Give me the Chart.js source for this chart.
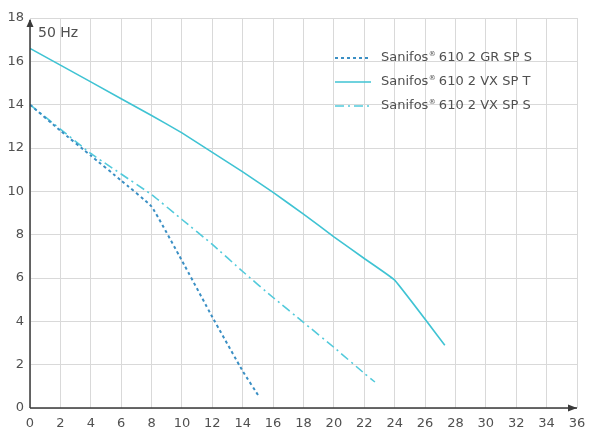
<!DOCTYPE html>
<html>
<head>
<meta charset="utf-8">
<script src="https://cdn.jsdelivr.net/npm/chart.js@4/dist/chart.umd.min.js"></script>
<style>
  html, body { margin: 0; padding: 0; background: #fff; }
  #wrap { width: 589px; height: 433px; position: relative; }
</style>
</head>
<body>
<div id="wrap"><canvas id="pump"></canvas></div>
<script>
// Flow (m3/h) and head (m)
const grFlow = [0, 2, 4, 6, 8, 10, 12, 14, 15.1];
const grHead = [14.0, 12.8, 11.65, 10.5, 9.3, 6.8, 4.2, 1.7, 0.5];

const vxtFlow = [0, 4, 8, 10, 12, 14, 16, 18, 20, 22, 24, 27.3];
const vxtHead = [16.6, 15.05, 13.5, 12.7, 11.8, 10.9, 9.95, 8.95, 7.9, 6.9, 5.9, 2.9];

const vxsFlow = [0, 4, 8, 10, 12, 14, 16, 18, 20, 22, 22.7];
const vxsHead = [14.0, 11.75, 9.85, 8.7, 7.55, 6.3, 5.1, 3.95, 2.8, 1.6, 1.2];

const seriesNames = ['610 2 GR SP S', '610 2 VX SP T', '610 2 VX SP S'];
const xTicks = { min: 0, max: 36, step: 2 };
const yTicks = { min: 0, max: 18, step: 2 };

const textColor = '#505050';
const fontFamily = '"DejaVu Sans", sans-serif';

function toPoints(xs, ys) {
    return xs.map((x, i) => ({ x: x, y: ys[i] }));
}

const lineStyles = [
    { color: '#3a8fc4', dash: [3, 3], width: 2 },
    { color: '#3fc3d3', dash: [], width: 1.6 },
    { color: '#52cadb', dash: [9, 4, 2, 4], width: 1.6 }
];

// axis arrows, legend and the "50 Hz" label
const decorations = {
    id: 'decorations',
    afterDraw(chart) {
        const ctx = chart.ctx;
        const a = chart.chartArea;
        ctx.save();
        ctx.strokeStyle = '#3a3a3a';
        ctx.fillStyle = '#3a3a3a';
        ctx.lineWidth = 1.5;
        ctx.beginPath();
        ctx.moveTo(a.left, a.bottom);
        ctx.lineTo(a.left, a.top + 2);
        ctx.moveTo(a.left, a.bottom);
        ctx.lineTo(a.right, a.bottom);
        ctx.stroke();
        // arrow heads
        ctx.beginPath();
        ctx.moveTo(a.left, a.top + 1);
        ctx.lineTo(a.left - 3.5, a.top + 9);
        ctx.lineTo(a.left + 3.5, a.top + 9);
        ctx.closePath();
        ctx.fill();
        ctx.beginPath();
        ctx.moveTo(a.right, a.bottom);
        ctx.lineTo(a.right - 9, a.bottom - 3.5);
        ctx.lineTo(a.right - 9, a.bottom + 3.5);
        ctx.closePath();
        ctx.fill();

        ctx.font = '14px ' + fontFamily;
        ctx.fillStyle = textColor;
        ctx.textBaseline = 'middle';
        ctx.fillText('50 Hz', a.left + 8, 33);

        // legend
        const rows = [58, 82, 106];
        seriesNames.forEach((name, i) => {
            const s = lineStyles[i];
            const y = rows[i];
            ctx.strokeStyle = s.color;
            ctx.lineWidth = s.width;
            ctx.setLineDash(s.dash);
            ctx.beginPath();
            ctx.moveTo(335, y);
            ctx.lineTo(371, y);
            ctx.stroke();
            ctx.setLineDash([]);

            let x = 381;
            ctx.font = '13px ' + fontFamily;
            ctx.fillStyle = textColor;
            ctx.fillText('Sanifos', x, y);
            x += ctx.measureText('Sanifos').width + 0.5;
            ctx.font = '7px ' + fontFamily;
            ctx.fillText('\u00AE', x, y - 4);
            x += ctx.measureText('\u00AE').width + 3;
            ctx.font = '13px ' + fontFamily;
            ctx.fillText(name, x, y);
        });
        ctx.restore();
    }
};

const datasets = [
    toPoints(grFlow, grHead),
    toPoints(vxtFlow, vxtHead),
    toPoints(vxsFlow, vxsHead)
].map((pts, i) => ({
    label: 'Sanifos\u00AE ' + seriesNames[i],
    data: pts,
    borderColor: lineStyles[i].color,
    borderWidth: lineStyles[i].width,
    borderDash: lineStyles[i].dash,
    pointRadius: 0,
    tension: 0.1,
    fill: false
}));

window.onload = function () {
    const ctx = document.getElementById('pump').getContext('2d');
    new Chart(ctx, {
        type: 'line',
        data: { datasets: datasets },
        options: {
            responsive: true,
            maintainAspectRatio: false,
            animation: false,
            layout: { padding: { top: 18, right: 12, left: 0, bottom: 0 } },
            plugins: {
                legend: { display: false },
                tooltip: { enabled: false }
            },
            scales: {
                x: {
                    type: 'linear',
                    min: xTicks.min,
                    max: xTicks.max,
                    afterFit: (scale) => {
                        scale.height = 25;
                        scale.paddingRight = 0;
                        scale.paddingLeft = 0;
                    },
                    grid: { color: '#d9d9d9', lineWidth: 1, drawTicks: false },
                    border: { display: false },
                    ticks: {
                        stepSize: xTicks.step,
                        padding: 8,
                        color: textColor,
                        font: { family: fontFamily, size: 13 },
                        maxRotation: 0
                    }
                },
                y: {
                    type: 'linear',
                    min: yTicks.min,
                    max: yTicks.max,
                    afterFit: (scale) => { scale.width = 30; },
                    grid: { color: '#d9d9d9', lineWidth: 1, drawTicks: false },
                    border: { display: false },
                    ticks: {
                        stepSize: yTicks.step,
                        padding: 6,
                        color: textColor,
                        font: { family: fontFamily, size: 13 }
                    }
                }
            }
        },
        plugins: [decorations]
    });
};
</script>
</body>
</html>
